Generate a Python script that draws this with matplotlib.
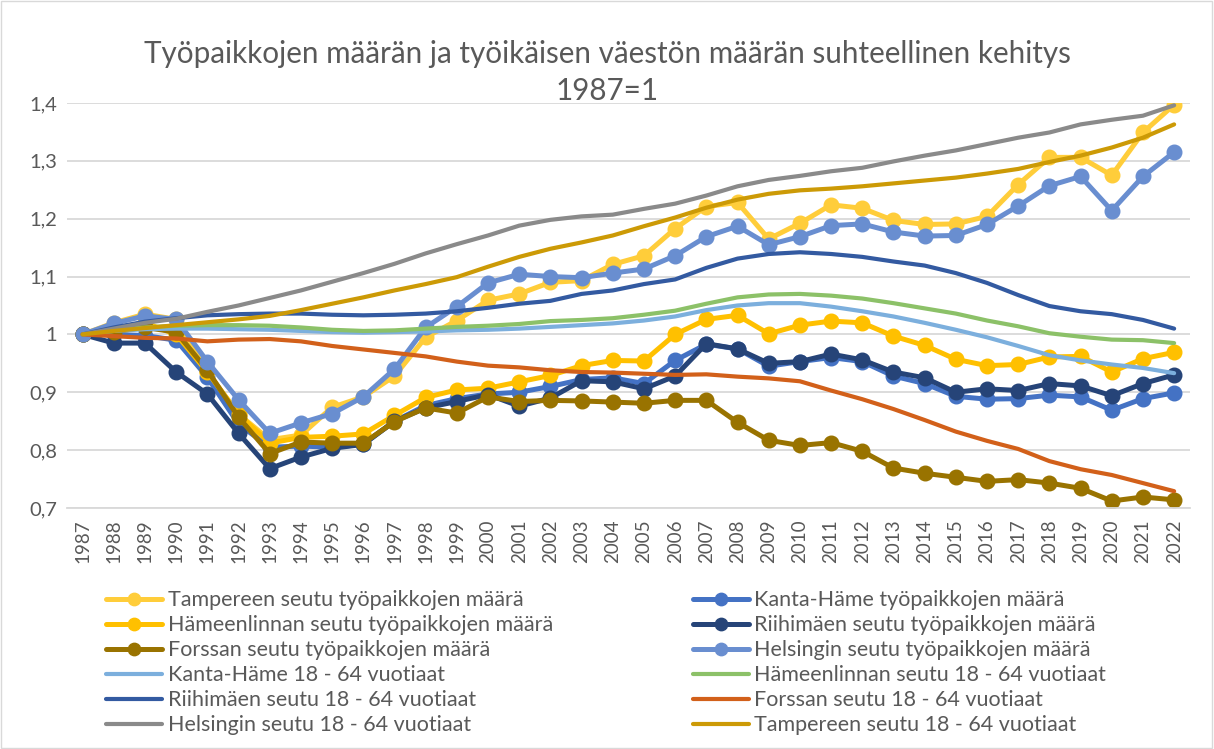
import matplotlib.pyplot as plt
from matplotlib.patches import Rectangle
from matplotlib.ticker import FixedLocator

plt.rcParams['font.family'] = ['Lato', 'DejaVu Sans']

years = list(range(1987, 2023))

# työpaikkojen määrä
tampere_jobs = [1.000, 1.020, 1.035, 1.026, 0.935, 0.862, 0.818, 0.826, 0.874, 0.892,
                0.928, 0.995, 1.024, 1.059, 1.070, 1.090, 1.093, 1.121, 1.136, 1.183,
                1.221, 1.228, 1.165, 1.192, 1.224, 1.218, 1.197, 1.190, 1.191, 1.204,
                1.259, 1.306, 1.306, 1.275, 1.349, 1.397]
kanta_hame_jobs = [1.000, 1.000, 0.998, 0.990, 0.926, 0.845, 0.805, 0.807, 0.805, 0.810,
                   0.850, 0.877, 0.889, 0.897, 0.900, 0.910, 0.922, 0.925, 0.915, 0.955,
                   0.983, 0.975, 0.945, 0.953, 0.960, 0.953, 0.928, 0.915, 0.893, 0.888,
                   0.889, 0.895, 0.892, 0.869, 0.889, 0.899]
hml_jobs = [1.000, 1.010, 1.020, 1.000, 0.935, 0.862, 0.812, 0.822, 0.824, 0.828,
            0.860, 0.891, 0.904, 0.907, 0.918, 0.929, 0.946, 0.955, 0.954, 1.000,
            1.026, 1.033, 1.001, 1.016, 1.023, 1.020, 0.997, 0.981, 0.957, 0.946,
            0.948, 0.961, 0.962, 0.935, 0.958, 0.969]
riihimaki_jobs = [1.000, 0.985, 0.985, 0.935, 0.897, 0.829, 0.768, 0.788, 0.803, 0.810,
                  0.850, 0.873, 0.884, 0.896, 0.876, 0.890, 0.920, 0.918, 0.906, 0.928,
                  0.984, 0.975, 0.950, 0.953, 0.966, 0.956, 0.935, 0.925, 0.900, 0.906,
                  0.903, 0.915, 0.911, 0.894, 0.915, 0.930]
forssa_jobs = [1.000, 1.005, 1.012, 1.004, 0.938, 0.857, 0.794, 0.814, 0.812, 0.812,
               0.849, 0.873, 0.864, 0.892, 0.884, 0.886, 0.885, 0.883, 0.881, 0.886,
               0.886, 0.848, 0.817, 0.808, 0.813, 0.798, 0.769, 0.760, 0.753, 0.746,
               0.749, 0.743, 0.734, 0.712, 0.719, 0.714]
helsinki_jobs = [1.000, 1.019, 1.032, 1.026, 0.953, 0.887, 0.829, 0.847, 0.863, 0.892,
                 0.940, 1.012, 1.048, 1.089, 1.104, 1.100, 1.098, 1.106, 1.113, 1.136,
                 1.169, 1.187, 1.155, 1.169, 1.188, 1.191, 1.177, 1.170, 1.171, 1.190,
                 1.222, 1.257, 1.273, 1.214, 1.273, 1.315]

# 18 - 64 vuotiaat
kanta_hame_pop = [1.000, 1.006, 1.009, 1.010, 1.010, 1.009, 1.008, 1.006, 1.004, 1.003,
                  1.004, 1.005, 1.007, 1.008, 1.010, 1.013, 1.016, 1.019, 1.024, 1.031,
                  1.042, 1.050, 1.054, 1.054, 1.048, 1.040, 1.031, 1.020, 1.008, 0.995,
                  0.980, 0.964, 0.955, 0.948, 0.942, 0.933]
hml_pop = [1.000, 1.008, 1.012, 1.015, 1.016, 1.016, 1.015, 1.012, 1.008, 1.006,
           1.007, 1.010, 1.013, 1.015, 1.018, 1.023, 1.025, 1.028, 1.034, 1.041,
           1.053, 1.064, 1.069, 1.070, 1.067, 1.062, 1.054, 1.045, 1.036, 1.024,
           1.014, 1.002, 0.996, 0.991, 0.990, 0.985]
riihimaki_pop = [1.000, 1.012, 1.022, 1.028, 1.033, 1.035, 1.036, 1.036, 1.034, 1.033,
                 1.034, 1.036, 1.040, 1.046, 1.053, 1.058, 1.070, 1.076, 1.087, 1.095,
                 1.115, 1.131, 1.139, 1.142, 1.139, 1.134, 1.126, 1.119, 1.106, 1.089,
                 1.068, 1.049, 1.040, 1.035, 1.025, 1.010]
forssa_pop = [1.000, 0.997, 0.994, 0.993, 0.988, 0.991, 0.992, 0.988, 0.980, 0.974,
              0.968, 0.962, 0.953, 0.946, 0.943, 0.938, 0.935, 0.934, 0.932, 0.930,
              0.931, 0.927, 0.924, 0.919, 0.903, 0.888, 0.871, 0.852, 0.832, 0.816,
              0.802, 0.781, 0.767, 0.757, 0.743, 0.729]
helsinki_pop = [1.000, 1.010, 1.020, 1.027, 1.039, 1.050, 1.063, 1.076, 1.091, 1.106,
                1.122, 1.140, 1.156, 1.171, 1.188, 1.198, 1.204, 1.207, 1.217, 1.226,
                1.240, 1.256, 1.267, 1.274, 1.282, 1.288, 1.299, 1.309, 1.318, 1.329,
                1.340, 1.349, 1.363, 1.371, 1.378, 1.396]
tampere_pop = [1.000, 1.006, 1.011, 1.016, 1.021, 1.026, 1.032, 1.042, 1.053, 1.064,
               1.076, 1.087, 1.099, 1.117, 1.134, 1.148, 1.159, 1.171, 1.187, 1.202,
               1.219, 1.233, 1.243, 1.249, 1.252, 1.256, 1.261, 1.266, 1.271, 1.278,
               1.286, 1.298, 1.309, 1.323, 1.340, 1.363]

series = [
    ('Tampereen seutu työpaikkojen määrä', tampere_jobs, '#FFCD3A', True),
    ('Kanta-Häme työpaikkojen määrä', kanta_hame_jobs, '#4472C4', True),
    ('Hämeenlinnan seutu työpaikkojen määrä', hml_jobs, '#FFC000', True),
    ('Riihimäen seutu työpaikkojen määrä', riihimaki_jobs, '#264478', True),
    ('Forssan seutu työpaikkojen määrä', forssa_jobs, '#997300', True),
    ('Helsingin seutu työpaikkojen määrä', helsinki_jobs, '#698ED0', True),
    ('Kanta-Häme 18 - 64 vuotiaat', kanta_hame_pop, '#7CAFDD', False),
    ('Hämeenlinnan seutu 18 - 64 vuotiaat', hml_pop, '#8CC168', False),
    ('Riihimäen seutu 18 - 64 vuotiaat', riihimaki_pop, '#335AA1', False),
    ('Forssan seutu 18 - 64 vuotiaat', forssa_pop, '#D2601A', False),
    ('Helsingin seutu 18 - 64 vuotiaat', helsinki_pop, '#8A8A8A', False),
    ('Tampereen seutu 18 - 64 vuotiaat', tampere_pop, '#CC9A06', False),
]

fig = plt.figure(figsize=(12.14, 7.49), dpi=100)
ax = fig.add_axes([0.0552, 0.3218, 0.9248, 0.5407])

handles = []
for name, vals, color, jobs in series:
    if jobs:
        h, = ax.plot(years, vals, color=color, lw=3.6, marker='o', ms=10.5,
                     solid_capstyle='round', label=name)
    else:
        h, = ax.plot(years, vals, color=color, lw=3.0, solid_capstyle='round', label=name)
    handles.append(h)

ax.set_xlim(1986.5, 2022.5)
ax.set_ylim(0.7, 1.4)
yt = [0.7, 0.8, 0.9, 1.0, 1.1, 1.2, 1.3, 1.4]
ax.yaxis.set_major_locator(FixedLocator(yt))
ax.set_yticklabels(['0,7', '0,8', '0,9', '1', '1,1', '1,2', '1,3', '1,4'])
ax.set_xticks(years)
ax.set_xticklabels([str(y) for y in years], rotation=90)
ax.tick_params(axis='y', length=0, labelsize=14.5, labelcolor='#595959', pad=7)
ax.tick_params(axis='x', length=0, labelsize=13.5, labelcolor='#595959', pad=8)
ax.grid(axis='y', color='#D9D9D9', lw=1.3)
ax.set_axisbelow(True)
for s in ['top', 'right', 'left']:
    ax.spines[s].set_visible(False)
ax.spines['bottom'].set_color('#D9D9D9')
ax.spines['bottom'].set_linewidth(1.3)

fig.text(0.5, 0.928, 'Työpaikkojen määrän ja työikäisen väestön määrän suhteellinen kehitys',
         ha='center', va='center', fontsize=21.3, color='#595959')
fig.text(0.5, 0.879, '1987=1', ha='center', va='center', fontsize=21.3, color='#595959')

# legend: Excel fills row-wise, matplotlib column-wise
order = [0, 2, 4, 6, 8, 10, 1, 3, 5, 7, 9, 11]
leg = fig.legend([handles[i] for i in order], [series[i][0] for i in order],
                 loc='upper left', bbox_to_anchor=(0.0717, 0.238), ncol=2,
                 frameon=False, fontsize=15.5, handlelength=2.6, handletextpad=0.25,
                 columnspacing=6.5, labelspacing=0.235, markerscale=0.85)
for t in leg.get_texts():
    t.set_color('#595959')

fig.add_artist(Rectangle((0.001, 0.001), 0.997, 0.997, transform=fig.transFigure,
                         fill=False, ec='#D9D9D9', lw=1))

fig.savefig('out.png', dpi=100)
